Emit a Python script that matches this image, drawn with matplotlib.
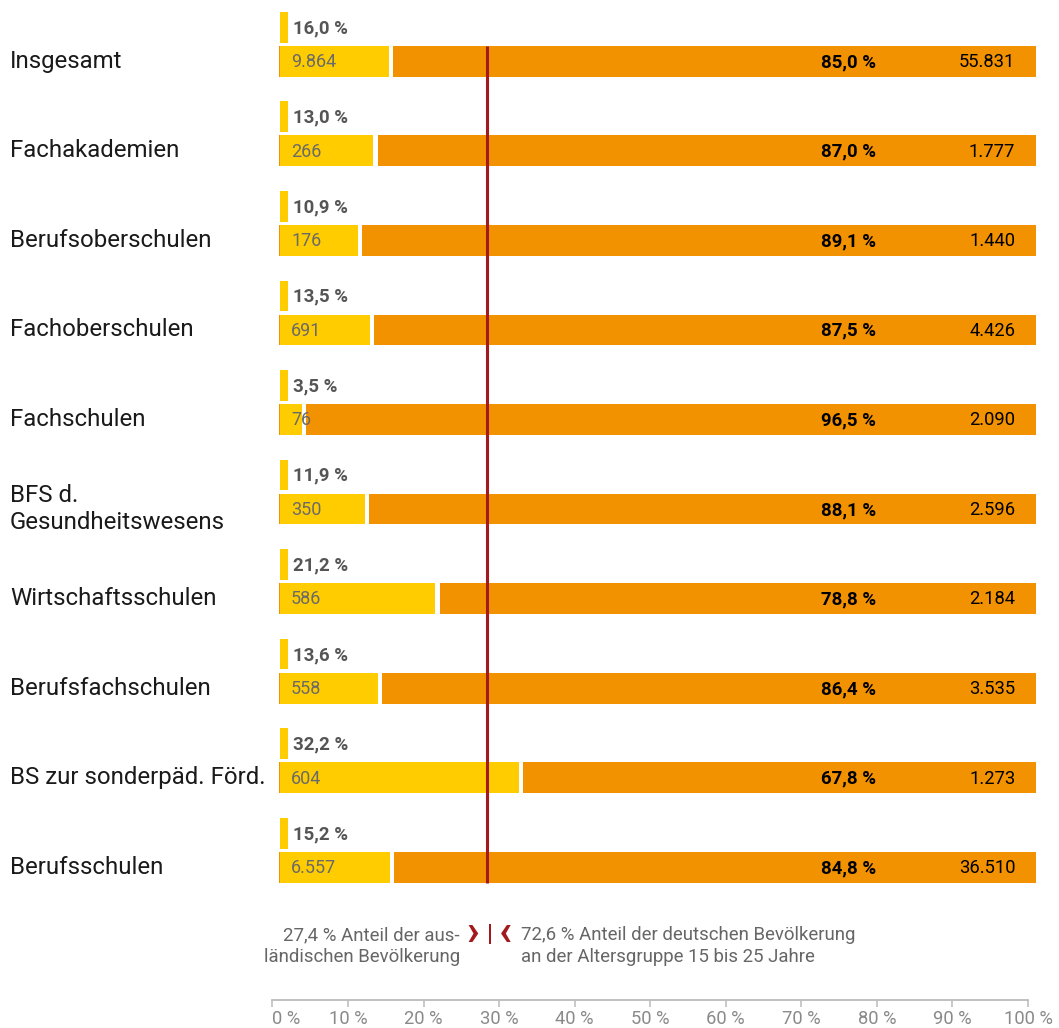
import matplotlib
matplotlib.use("Agg")
import matplotlib.pyplot as plt
import matplotlib.transforms as mtransforms

plt.rcParams['font.family'] = ['Roboto', 'DejaVu Sans']

# Daten
categories = ["Insgesamt", "Fachakademien", "Berufsoberschulen", "Fachoberschulen",
              "Fachschulen", "BFS d.\nGesundheitswesens", "Wirtschaftsschulen",
              "Berufsfachschulen", "BS zur sonderpäd. Förd.", "Berufsschulen"]
foreign_n = [9864, 266, 176, 691, 76, 350, 586, 558, 604, 6557]
german_n = [55831, 1777, 1440, 4426, 2090, 2596, 2184, 3535, 1273, 36510]
foreign_pct = [16.0, 13.0, 10.9, 13.5, 3.5, 11.9, 21.2, 13.6, 32.2, 15.2]
german_pct = [85.0, 87.0, 89.1, 87.5, 96.5, 88.1, 78.8, 86.4, 67.8, 84.8]
pop_foreign = 27.4
pop_german = 72.6
ticks = [0, 10, 20, 30, 40, 50, 60, 70, 80, 90, 100]

YELLOW = "#FFCC00"
ORANGE = "#F39200"
RED = "#A31A1E"
W, H = 1059, 1028


def pct(v):
    return f"{v:.1f}".replace(".", ",") + " %"


def num(n):
    return f"{n:,}".replace(",", ".")


fig = plt.figure(figsize=(W / 100, H / 100), dpi=100)
ax = fig.add_axes([279.3 / W, 0, 756.4 / W, 1])
ax.set_xlim(0, 100)
# Zeile 0 bei px 61.3, Zeilenabstand 89.55 px
ax.set_ylim((H - 61.3) / 89.55, -61.3 / 89.55)
ax.axis("off")

bh = 0.343
gap = 0.55
rows = range(len(categories))
for i in rows:
    split = 100 - german_pct[i]
    ax.barh(i, 100, left=0, height=bh, color=ORANGE, zorder=1)
    ax.barh(i, gap, left=split - gap, height=bh, color="white", zorder=2)
    ax.barh(i, split - gap - 0.15, left=0.15, height=bh, color=YELLOW, zorder=2)
    # kleine Markierung mit Prozentwert
    ax.barh(i - 0.38, 1.05, left=0.1, height=0.343, color=YELLOW, zorder=2)
    ax.text(1.8, i - 0.37, pct(foreign_pct[i]), fontsize=13.4, fontweight="bold",
            color="#555555", va="center", ha="left")
    ax.text(1.55, i + 0.01, num(foreign_n[i]), fontsize=13,
            color="#6A6A6A", va="center", ha="left", zorder=4)
    ax.text(78.9, i + 0.01, pct(german_pct[i]), fontsize=13.4, fontweight="bold",
            color="black", va="center", ha="right", zorder=4)
    ax.text(97.3, i + 0.01, num(german_n[i]), fontsize=13.2, color="black",
            va="center", ha="right", zorder=4)

ax.vlines(pop_foreign, -bh / 2, len(categories) - 1 + bh / 2, color=RED,
          linewidth=2.2, zorder=3)

# Kategorien links
trans = mtransforms.blended_transform_factory(fig.transFigure, ax.transData)
for i, c in enumerate(categories):
    ax.text(10 / W, i, c, transform=trans, fontsize=17.3,
            color="#1A1A1A", va="center", ha="left", linespacing=1.2)

# Legende unten
y1 = (935 - 61.3) / 89.55
y2 = (957 - 61.3) / 89.55
ax.text(23.9, y1, pct(pop_foreign) + " Anteil der aus-", fontsize=13.4,
        color="#666666", ha="right", va="center")
ax.text(23.9, y2, "ländischen Bevölkerung", fontsize=13.4,
        color="#666666", ha="right", va="center")
ax.text(25.5, y1 - 0.02, "›", fontsize=30, fontweight="bold", color=RED,
        ha="center", va="center")
ax.text(27.9, y1 - 0.01, "|", fontsize=17, fontweight="bold", color=RED,
        ha="center", va="center")
ax.text(29.9, y1 - 0.02, "‹", fontsize=30, fontweight="bold", color=RED,
        ha="center", va="center")
ax.text(31.9, y1, pct(pop_german) + " Anteil der deutschen Bevölkerung",
        fontsize=13.4, color="#666666", ha="left", va="center")
ax.text(31.9, y2, "an der Altersgruppe 15 bis 25 Jahre",
        fontsize=13.4, color="#666666", ha="left", va="center")

# Skala unten
ax2 = fig.add_axes([272.4 / W, (H - 1000) / H, 755.6 / W, 0.0001])
ax2.set_xlim(0, 100)
ax2.set_yticks([])
for s in ["top", "left", "right"]:
    ax2.spines[s].set_visible(False)
ax2.spines["bottom"].set_color("#BBBBBB")
ax2.spines["bottom"].set_linewidth(1.3)
ax2.set_xticks(ticks)
ax2.set_xticklabels([f"{t} %" for t in ticks])
ax2.tick_params(axis="x", direction="out", length=5, width=1.1, color="#BBBBBB",
                labelsize=13.2, labelcolor="#8A8A8A", pad=2)
ax2.get_xticklabels()[0].set_horizontalalignment("left")

fig.savefig("out.png", dpi=100)
